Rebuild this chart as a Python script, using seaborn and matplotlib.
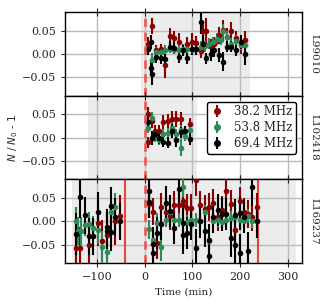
import matplotlib
matplotlib.use("Agg")
import matplotlib.pyplot as plt
import seaborn as sns
import pandas as pd

sns.set_style("ticks")
plt.rcParams["font.family"] = ["DejaVu Serif"]
plt.rcParams["mathtext.fontset"] = "dejavusans"

freqs = ["38.2 MHz", "53.8 MHz", "69.4 MHz"]
colors = ["#8b0000", "#2e8b57", "#000000"]
obs_ids = ["L99010", "L102418", "L169237"]

# panel 1 - L99010
t1_red = [7, 15, 24, 33, 43, 52, 61, 71, 80, 89, 99, 108, 117, 122, 129, 138, 146, 155, 164, 173, 182, 192, 201, 210]
v1_red = [0.022, 0.060, 0.008, 0.010, -0.025, 0.038, 0.033, 0.026, 0.008, 0.022, 0.026, 0.024, 0.005, 0.048, 0.048, 0.016, 0.022, 0.040, 0.051, 0.037, 0.048, 0.033, 0.019, 0.030]
e1_red = [0.015, 0.018, 0.012, 0.012, 0.028, 0.018, 0.015, 0.018, 0.012, 0.015, 0.018, 0.015, 0.015, 0.022, 0.030, 0.015, 0.015, 0.018, 0.022, 0.018, 0.020, 0.015, 0.020, 0.018]
t1_grn = [7, 15, 24, 33, 43, 52, 61, 71, 80, 89, 99, 108, 117, 126, 135, 143, 152, 161, 164, 173, 182, 192, 201, 210]
v1_grn = [0.010, -0.014, 0.004, 0.004, 0.008, 0.011, 0.009, 0.008, 0.011, 0.011, 0.009, 0.011, 0.015, 0.016, 0.022, 0.025, 0.032, 0.030, 0.050, 0.037, 0.022, 0.028, 0.020, 0.018]
e1_grn = [0.012, 0.015, 0.010, 0.010, 0.010, 0.010, 0.010, 0.010, 0.010, 0.010, 0.010, 0.010, 0.012, 0.012, 0.012, 0.012, 0.012, 0.012, 0.015, 0.012, 0.012, 0.012, 0.012, 0.012]
t1_blk = [7, 13, 14, 15, 24, 33, 43, 52, 61, 71, 80, 89, 99, 108, 117, 122, 129, 138, 146, 155, 164, 173, 182, 192, 201, 210]
v1_blk = [0.010, 0.025, -0.030, -0.043, -0.007, -0.010, -0.012, 0.015, 0.013, -0.007, 0.008, -0.010, 0.010, 0.010, 0.068, 0.022, -0.010, 0.000, 0.008, -0.003, -0.017, 0.015, 0.015, 0.008, 0.025, 0.000]
e1_blk = [0.012, 0.015, 0.018, 0.025, 0.012, 0.012, 0.012, 0.012, 0.012, 0.012, 0.012, 0.012, 0.012, 0.012, 0.025, 0.018, 0.012, 0.015, 0.015, 0.015, 0.020, 0.012, 0.012, 0.012, 0.015, 0.025]

# panel 2 - L102418
t2_red = [6, 6, 15, 22, 30, 39, 48, 57, 66, 75, 94]
v2_red = [0.050, -0.010, 0.036, 0.015, 0.015, 0.033, 0.035, 0.040, 0.040, 0.040, 0.030]
e2_red = [0.015, 0.012, 0.015, 0.012, 0.012, 0.015, 0.015, 0.018, 0.018, 0.015, 0.012]
t2_grn = [6, 15, 22, 30, 39, 48, 57, 66, 75, 75, 84, 94]
v2_grn = [0.021, 0.042, 0.000, -0.005, 0.008, 0.010, 0.021, 0.008, 0.016, -0.022, 0.003, 0.016]
e2_grn = [0.012, 0.012, 0.010, 0.010, 0.010, 0.010, 0.012, 0.010, 0.012, 0.018, 0.010, 0.012]
t2_blk = [6, 15, 22, 30, 39, 48, 57, 66, 75, 84, 94]
v2_blk = [0.033, 0.000, 0.007, -0.001, -0.009, -0.011, 0.015, -0.005, 0.011, 0.013, -0.003]
e2_blk = [0.012, 0.015, 0.012, 0.012, 0.012, 0.012, 0.015, 0.015, 0.012, 0.012, 0.012]

# panel 3 - L169237
t3_red = [-145, -137, -118, -99, -89, -80, -62, -52, 8, 8, 17, 26, 35, 44, 53, 62, 71, 80, 80, 89, 98, 107, 116, 126, 135, 144, 153, 162, 171, 180, 190, 199, 208, 217, 226, 235]
v3_red = [-0.058, -0.058, -0.050, -0.004, -0.042, -0.030, 0.000, 0.012, 0.040, 0.037, 0.021, -0.047, 0.031, 0.020, 0.012, 0.036, 0.036, 0.043, 0.036, 0.028, 0.028, 0.089, 0.036, 0.026, 0.030, 0.039, 0.009, 0.024, 0.066, 0.038, -0.018, 0.043, 0.020, 0.015, 0.010, 0.030]
e3_red = [0.045, 0.045, 0.050, 0.050, 0.045, 0.050, 0.050, 0.045, 0.030, 0.030, 0.030, 0.035, 0.030, 0.030, 0.030, 0.030, 0.030, 0.030, 0.030, 0.030, 0.030, 0.035, 0.030, 0.030, 0.030, 0.030, 0.030, 0.030, 0.035, 0.030, 0.035, 0.030, 0.030, 0.030, 0.030, 0.030]
t3_grn = [-145, -140, -135, -126, -117, -108, -99, -89, -80, -71, -62, 8, 17, 26, 35, 44, 53, 62, 71, 80, 89, 98, 107, 116, 126, 135, 144, 153, 162, 171, 180, 190, 199, 208, 217, 226, 235]
v3_grn = [0.000, -0.020, -0.020, -0.007, -0.005, -0.014, -0.019, -0.055, -0.065, 0.020, 0.030, -0.017, -0.040, -0.003, -0.055, 0.002, 0.020, 0.002, 0.002, 0.073, -0.002, 0.002, 0.002, 0.000, 0.020, -0.042, 0.000, 0.002, -0.002, 0.002, 0.008, 0.009, 0.002, 0.000, 0.012, 0.000, 0.000]
e3_grn = [0.030, 0.030, 0.030, 0.025, 0.025, 0.025, 0.030, 0.035, 0.035, 0.030, 0.030, 0.020, 0.025, 0.020, 0.030, 0.015, 0.015, 0.015, 0.015, 0.020, 0.015, 0.015, 0.015, 0.015, 0.015, 0.020, 0.015, 0.015, 0.015, 0.015, 0.015, 0.015, 0.015, 0.015, 0.015, 0.015, 0.020]
t3_blk = [-145, -136, -126, -117, -108, -99, -80, -80, -71, -71, -62, -52, 8, 8, 17, 17, 26, 35, 44, 53, 62, 71, 80, 80, 89, 98, 107, 116, 126, 135, 135, 144, 153, 162, 171, 180, 190, 190, 199, 199, 208, 217, 226, 235]
v3_blk = [-0.027, 0.052, 0.013, -0.032, -0.032, 0.019, -0.013, -0.020, 0.033, -0.023, 0.009, 0.000, 0.065, 0.042, -0.048, -0.068, -0.025, -0.005, 0.040, 0.022, -0.014, 0.070, -0.030, -0.003, -0.025, -0.006, -0.057, 0.000, -0.020, -0.074, -0.040, 0.010, 0.024, 0.015, 0.016, -0.036, -0.050, 0.013, -0.068, 0.017, 0.010, -0.064, 0.073, 0.000]
e3_blk = [0.045, 0.045, 0.040, 0.040, 0.040, 0.045, 0.040, 0.040, 0.040, 0.040, 0.040, 0.040, 0.035, 0.035, 0.035, 0.040, 0.035, 0.035, 0.035, 0.035, 0.035, 0.040, 0.040, 0.035, 0.035, 0.035, 0.040, 0.035, 0.035, 0.040, 0.035, 0.035, 0.035, 0.035, 0.035, 0.040, 0.040, 0.035, 0.040, 0.035, 0.035, 0.040, 0.040, 0.035]

panels = [
    [(t1_red, v1_red, e1_red), (t1_grn, v1_grn, e1_grn), (t1_blk, v1_blk, e1_blk)],
    [(t2_red, v2_red, e2_red), (t2_grn, v2_grn, e2_grn), (t2_blk, v2_blk, e2_blk)],
    [(t3_red, v3_red, e3_red), (t3_grn, v3_grn, e3_grn), (t3_blk, v3_blk, e3_blk)],
]
spans = [(-8, 221), (-120, 110), (-152, 317)]
cuts = [[], [], [-42, 237]]

fig, axes = plt.subplots(3, 1, figsize=(3.24, 3.06), dpi=100, sharex=True)
fig.subplots_adjust(left=0.2, right=0.932, top=0.961, bottom=0.14, hspace=0)

for i, ax in enumerate(axes):
    ax.axvspan(spans[i][0], spans[i][1], color="#ececec", zorder=0, lw=0)
    ax.grid(True, color="#bbbbbb", lw=1.0, zorder=1)
    ax.set_axisbelow(True)
    for c in cuts[i]:
        ax.axvline(c, color="#e8453c", lw=1.5, zorder=2)
    ax.axvline(0, color="#e8453c", lw=2, ls=(0, (3, 2)), alpha=0.8, zorder=5)
    for (t, v, e), col, lab in zip(panels[i], colors, freqs):
        ax.errorbar(t, v, yerr=e, fmt="none", ecolor=col, elinewidth=1.5, zorder=3)
        df = pd.DataFrame({"t": t, "v": v})
        sns.scatterplot(data=df, x="t", y="v", color=col, s=16, linewidth=0, ax=ax, zorder=4)
    ax.set_xlim(-168, 330)
    ax.set_ylim(-0.09, 0.09)
    ax.set_yticks([-0.05, 0.0, 0.05])
    ax.set_yticklabels(["\u22120.05", "0.00", "0.05"])
    ax.set_xticks([-100, 0, 100, 200, 300])
    ax.tick_params(axis="x", direction="inout", top=True, length=6, labelsize=8)
    ax.tick_params(axis="y", labelsize=8, length=3)
    ax.set_ylabel("")
    ax.set_xlabel("")
    ax.text(1.05, 0.5, obs_ids[i], transform=ax.transAxes, rotation=270,
            va="center", ha="center", fontsize=7.5)
    for s in ax.spines.values():
        s.set_color("black")
        s.set_linewidth(1.0)

handles = []
for col, lab in zip(colors, freqs):
    h = axes[1].errorbar([], [], yerr=[], fmt="o", color=col, ms=4, elinewidth=1.5, label=lab)
    handles.append(h)
axes[1].legend(handles=handles, labels=freqs, loc="upper right", fontsize=8.5,
               frameon=True, edgecolor="black", fancybox=True, handletextpad=0.8,
               borderpad=0.3, labelspacing=0.25, handlelength=1.2, framealpha=1)

axes[1].set_ylabel("$N$ / $N_0$ - 1", fontsize=7.5, family="DejaVu Sans", labelpad=1)
axes[2].set_xlabel("Time (min)", fontsize=7.5)
axes[2].tick_params(axis="x", labelsize=8)

fig.savefig("out.png", dpi=100)
